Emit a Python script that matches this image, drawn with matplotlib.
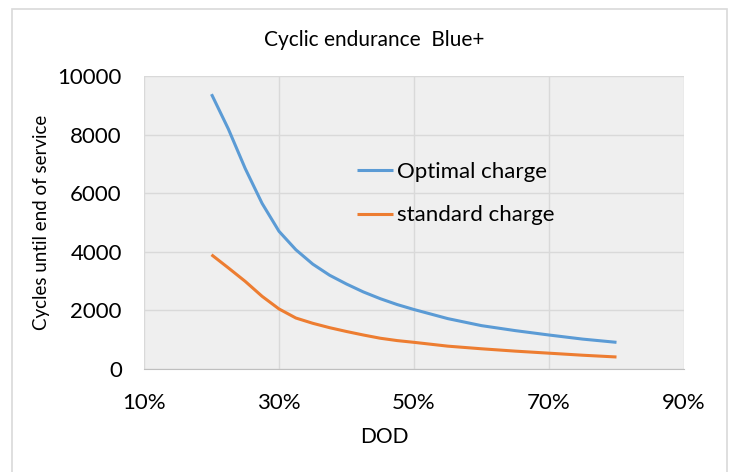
import matplotlib
matplotlib.use("Agg")
import matplotlib.pyplot as plt
from matplotlib.patches import Rectangle
from matplotlib.ticker import FuncFormatter

plt.rcParams['font.family'] = ['Lato', 'DejaVu Sans']

dod = [0.200, 0.225, 0.250, 0.275, 0.300, 0.325, 0.350, 0.375, 0.400, 0.425, 0.450, 0.475,
       0.500, 0.550, 0.600, 0.650, 0.700, 0.750, 0.800]
optimal = [9380, 8190, 6840, 5650, 4700, 4070, 3580, 3200, 2900, 2630, 2400, 2200,
           2030, 1720, 1480, 1310, 1160, 1020, 910]
standard = [3900, 3450, 2990, 2480, 2050, 1740, 1560, 1410, 1280, 1160, 1050, 970,
            910, 780, 690, 610, 540, 470, 410]
series_names = ["Optimal charge", "standard charge"]
colors = ["#5B9BD5", "#ED7D31"]

W, H = 738, 472
fig = plt.figure(figsize=(W / 100, H / 100), dpi=100)
fig.patch.set_facecolor("white")

# outer chart border
fig.add_artist(Rectangle((12 / W, -0.05), 715 / W, 1 - 9 / H + 0.05, transform=fig.transFigure,
                         fill=False, edgecolor="#D9D9D9", linewidth=1.2))

ax = fig.add_axes([144 / W, (H - 369) / H, 540 / W, 293 / H])
ax.set_facecolor("#EFEFEF")
ax.plot(dod, optimal, color=colors[0], lw=2.2, label=series_names[0], solid_capstyle="butt")
ax.plot(dod, standard, color=colors[1], lw=2.2, label=series_names[1], solid_capstyle="butt")

ax.set_xlim(0.10, 0.90)
ax.set_ylim(0, 10000)
ax.set_xticks([0.1, 0.3, 0.5, 0.7, 0.9])
ax.set_yticks([0, 2000, 4000, 6000, 8000, 10000])
ax.xaxis.set_major_formatter(FuncFormatter(lambda v, p: f"{v*100:.0f}%"))
ax.grid(True, color="#D9D9D9", lw=1)
ax.set_axisbelow(True)
for s in ["top", "right", "left"]:
    ax.spines[s].set_visible(False)
ax.spines["bottom"].set_color("#BFBFBF")
ax.tick_params(length=0, labelsize=16, colors="black")
ax.tick_params(axis="y", pad=16)
ax.tick_params(axis="x", pad=17)

fig.text(384 / W, 1 - 437 / H, "DOD", ha="center", va="center", fontsize=15)
fig.text(42 / W, 1 - 222 / H, "Cycles until end of service", ha="center", va="center",
         rotation=90, fontsize=13.5)
fig.text(374 / W, 1 - 40 / H, "Cyclic endurance  Blue+", ha="center", va="center", fontsize=15)

leg = ax.legend(loc="upper left", bbox_to_anchor=(357 / W, 1 - 162 / H),
                bbox_transform=fig.transFigure, frameon=False, fontsize=16,
                borderpad=0, borderaxespad=0,
                handlelength=1.6, handletextpad=0.2, labelspacing=1.05)

fig.savefig("out.png", dpi=100)
